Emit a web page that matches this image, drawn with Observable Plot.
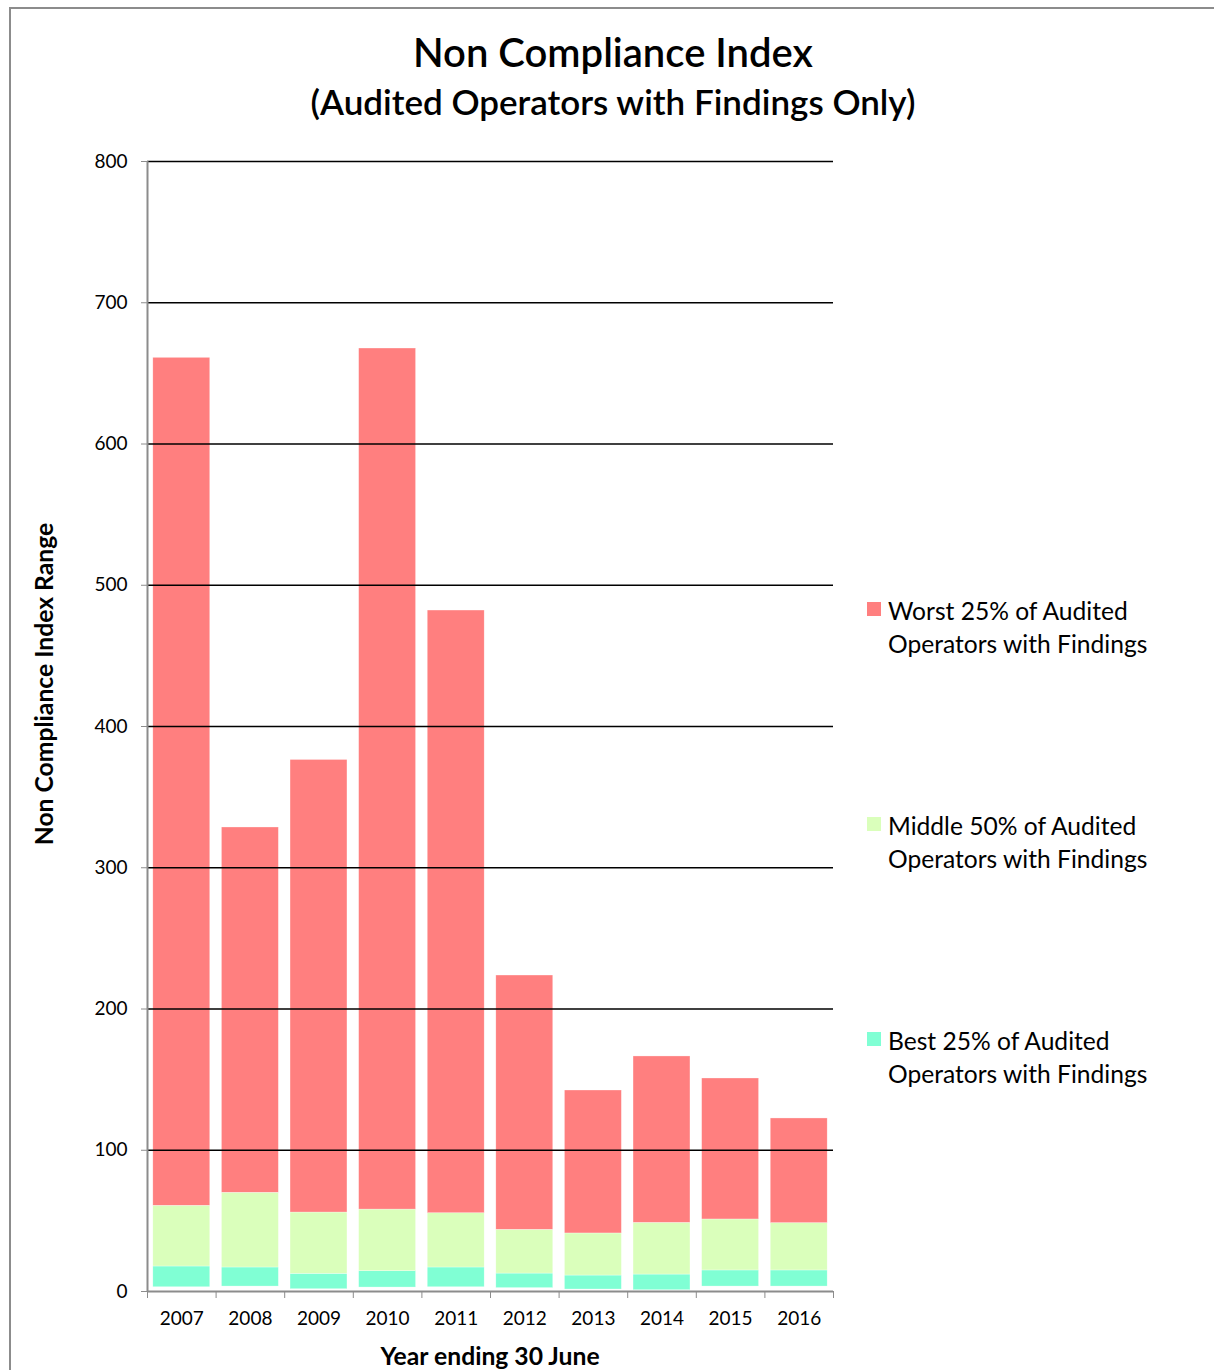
<!DOCTYPE html>
<html>
<head>
<meta charset="utf-8">
<script src="https://cdn.jsdelivr.net/npm/d3@7"></script>
<script src="https://cdn.jsdelivr.net/npm/@observablehq/plot@0.6"></script>
<style>
  html, body { margin: 0; padding: 0; background: #fff; }
  #wrap { position: relative; width: 1214px; height: 1370px; overflow: hidden; font-family: Lato, "Open Sans", sans-serif; color: #000; }
  #border { position: absolute; left: 9px; top: 7px; width: 1300px; height: 1400px; border-left: 2px solid #8c8c8c; border-top: 2px solid #8c8c8c; }
  #plot { position: absolute; left: 0; top: 0; }
  .title { position: absolute; left: 0; width: 1226px; text-align: center; font-weight: 600; }
  #t1 { top: 28px; font-size: 40px; }
  #t2 { top: 80px; font-size: 35px; }
  .axlabel { position: absolute; font-weight: 700; font-size: 24.7px; white-space: nowrap; }
  #ylab { left: 43px; top: 684px; transform: translate(-50%, -50%) rotate(-90deg); }
  #xlab { left: 490px; top: 1355px; transform: translate(-50%, -50%); }
  .leg { position: absolute; left: 867px; font-size: 24.6px; line-height: 33px; }
  .leg .sw { position: absolute; left: 0; top: 8px; width: 14px; height: 14px; }
  .leg .tx { position: absolute; left: 21px; top: 0; white-space: nowrap; }
</style>
</head>
<body>
<div id="wrap">
  <div id="border"></div>
  <div id="plot"></div>
  <div class="title" id="t1">Non Compliance Index</div>
  <div class="title" id="t2">(Audited Operators with Findings Only)</div>
  <div class="axlabel" id="ylab">Non Compliance Index Range</div>
  <div class="axlabel" id="xlab">Year ending 30 June</div>
  <div id="legend"></div>
</div>
<script>
// Data
const years = [2007, 2008, 2009, 2010, 2011, 2012, 2013, 2014, 2015, 2016];
const minValues = [3, 3.5, 1.6, 2.8, 3, 2.4, 1.4, 0.9, 3.5, 3.5];          // bottom of "Best 25%"
const q1Values  = [17.7, 17, 12.5, 14.4, 17, 12.7, 11.3, 12, 14.9, 14.9]; // top of "Best 25%"
const q3Values  = [60.7, 69.9, 55.9, 58, 55.4, 43.7, 41.1, 48.6, 51, 48.4]; // top of "Middle 50%"
const maxValues = [661, 328.5, 376.3, 667.6, 482.1, 223.7, 142.3, 166.4, 150.8, 122.5]; // top of "Worst 25%"
const seriesNames = [
  "Worst 25% of Audited\nOperators with Findings",
  "Middle 50% of Audited\nOperators with Findings",
  "Best 25% of Audited\nOperators with Findings"
];
const seriesColors = ["#ff7f7f", "#daffbb", "#80ffd4"];
const yTicks = [0, 100, 200, 300, 400, 500, 600, 700, 800];
const gridValues = [100, 200, 300, 400, 500, 600, 700, 800];

const halfBar = 0.415;
const rows = [];
years.forEach((yr, i) => {
  rows.push({year: yr, x1: yr - halfBar, x2: yr + halfBar, lo: minValues[i], hi: q1Values[i], s: 2});
  rows.push({year: yr, x1: yr - halfBar, x2: yr + halfBar, lo: q1Values[i], hi: q3Values[i], s: 1});
  rows.push({year: yr, x1: yr - halfBar, x2: yr + halfBar, lo: q3Values[i], hi: maxValues[i], s: 0});
});
const boundaries = years.map(y => y - 0.5).concat([years[years.length - 1] + 0.5]);

const chart = Plot.plot({
  width: 1214,
  height: 1370,
  marginLeft: 147,
  marginRight: 381,
  marginTop: 161,
  marginBottom: 79,
  style: {fontFamily: "Lato, 'Open Sans', sans-serif", fontSize: "19px", color: "#000", background: "transparent"},
  x: {domain: [years[0] - 0.5, years[years.length - 1] + 0.5]},
  y: {domain: [0, 800]},
  marks: [
    Plot.rectY(rows, {x1: "x1", x2: "x2", y1: "lo", y2: "hi", fill: d => seriesColors[d.s], stroke: "#fff", strokeOpacity: 0.6, strokeWidth: 0.5}),
    Plot.ruleY(gridValues, {stroke: "#000", strokeWidth: 1.3}),
    Plot.ruleY([0], {stroke: "#8c8c8c", strokeWidth: 2}),
    Plot.ruleX([years[0] - 0.5], {y1: 0, y2: 800, stroke: "#8c8c8c", strokeWidth: 2}),
    Plot.axisY({ticks: yTicks, tickSize: 6, tickPadding: 14, stroke: "#8c8c8c", label: null, tickFormat: d => String(d)}),
    Plot.axisX({ticks: boundaries, tickSize: 7, tickFormat: () => "", stroke: "#8c8c8c", label: null}),
    Plot.axisX({ticks: years, tickSize: 0, tickPadding: 20, tickFormat: d => String(d), label: null})
  ]
});
document.getElementById("plot").appendChild(chart);

// Legend
const legendTops = [594, 809, 1024];
const legend = document.getElementById("legend");
seriesNames.forEach((name, i) => {
  const item = document.createElement("div");
  item.className = "leg";
  item.style.top = legendTops[i] + "px";
  const sw = document.createElement("div");
  sw.className = "sw";
  sw.style.background = seriesColors[i];
  const tx = document.createElement("div");
  tx.className = "tx";
  tx.innerHTML = name.split("\n").join("<br>");
  item.appendChild(sw);
  item.appendChild(tx);
  legend.appendChild(item);
});
</script>
</body>
</html>
